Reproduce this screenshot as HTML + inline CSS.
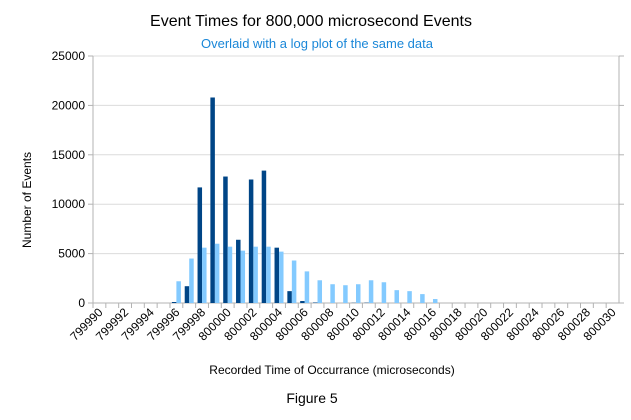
<!DOCTYPE html>
<html><head><meta charset="utf-8"><style>
body{margin:0;background:#fff;font-family:"Liberation Sans",sans-serif}
</style></head><body>
<svg id="chart" width="631" height="415" xmlns="http://www.w3.org/2000/svg" font-family="Liberation Sans, sans-serif">
<rect width="631" height="415" fill="#fff"/>
<text x="311" y="26" text-anchor="middle" font-size="16" fill="#000">Event Times for 800,000 microsecond Events</text>
<text x="317" y="48" text-anchor="middle" font-size="13" fill="#1a87d8">Overlaid with a log plot of the same data</text>
<text transform="translate(31,200) rotate(-90)" text-anchor="middle" font-size="12">Number of Events</text>
<text x="332" y="374" text-anchor="middle" font-size="12">Recorded Time of Occurrance (microseconds)</text>
<text x="312" y="403" text-anchor="middle" font-size="14">Figure 5</text>
<g id="plot"></g>
</svg>
<script>
const categories=[];for(let v=799990;v<=800030;v++)categories.push(String(v));
const countValues=[0,0,0,0,0,0,100,1700,11700,20800,12800,6400,12500,13400,5600,1200,200,50,0,0,20,30,0,0,0,0,0,0,0,0,0,0,0,0,0,0,0,0,0,0,0];
const logValues=[0,0,0,0,0,0,2200,4500,5600,6000,5700,5300,5700,5700,5200,4300,3200,2300,1900,1800,1900,2300,2100,1300,1200,900,400,0,0,0,0,0,0,0,0,0,0,0,0,0,0];
const yTicks=[0,5000,10000,15000,20000,25000];
const X0=93,X1=619,Y0=303,Y1=56,YMAX=25000;
const step=(X1-X0)/categories.length;
const xC=i=>X0+(i+0.5)*step;
const y=v=>Y0-(v/YMAX)*(Y0-Y1);
const NS="http://www.w3.org/2000/svg";
const g=document.getElementById('plot');
function mk(t,a){const e=document.createElementNS(NS,t);for(const k in a)e.setAttribute(k,a[k]);g.appendChild(e);return e;}
yTicks.forEach(t=>{
 const l=mk('line',{x1:X0,x2:X1,y1:y(t),y2:y(t),stroke:t===0?'#b3b3b3':'#dcdcdc','stroke-width':1});
 
 
 const tk=mk('line',{x1:X0-5,x2:X0,y1:y(t),y2:y(t),stroke:'#b3b3b3'});
 
 
 const tr=mk('line',{x1:X1,x2:X1+5,y1:y(t),y2:y(t),stroke:'#b3b3b3'});
 
 
 const tx=mk('text',{x:X0-8,y:y(t)+4,'text-anchor':'end','font-size':12});
 tx.textContent=t;
 
 
});
const ax=mk('line',{x1:X0,x2:X0,y1:Y1,y2:Y0,stroke:'#b3b3b3'});


const ax2=mk('line',{x1:X1,x2:X1,y1:Y1,y2:Y0,stroke:'#b3b3b3'});


categories.forEach((c,i)=>{
 const tk=mk('line',{x1:X0+i*step,x2:X0+i*step,y1:Y0,y2:Y0+5,stroke:'#b3b3b3'});
 
 
 const cx=xC(i);
 if(countValues[i]>0){
  const b=mk('rect',{x:cx-4.5,y:y(countValues[i]),width:4.5,height:Y0-y(countValues[i]),fill:'#004586'});
  
  
 }
 if(logValues[i]>0){
  const b=mk('rect',{x:cx,y:y(logValues[i]),width:4.5,height:Y0-y(logValues[i]),fill:'#83caff'});
  
  
 }
 if(i%2===0){
  const tx=mk('text',{transform:`translate(${cx+4},${Y0+10}) rotate(-45)`,'text-anchor':'end','font-size':12});
  tx.textContent=c;
  
  
 }
});
</script>
</body></html>
